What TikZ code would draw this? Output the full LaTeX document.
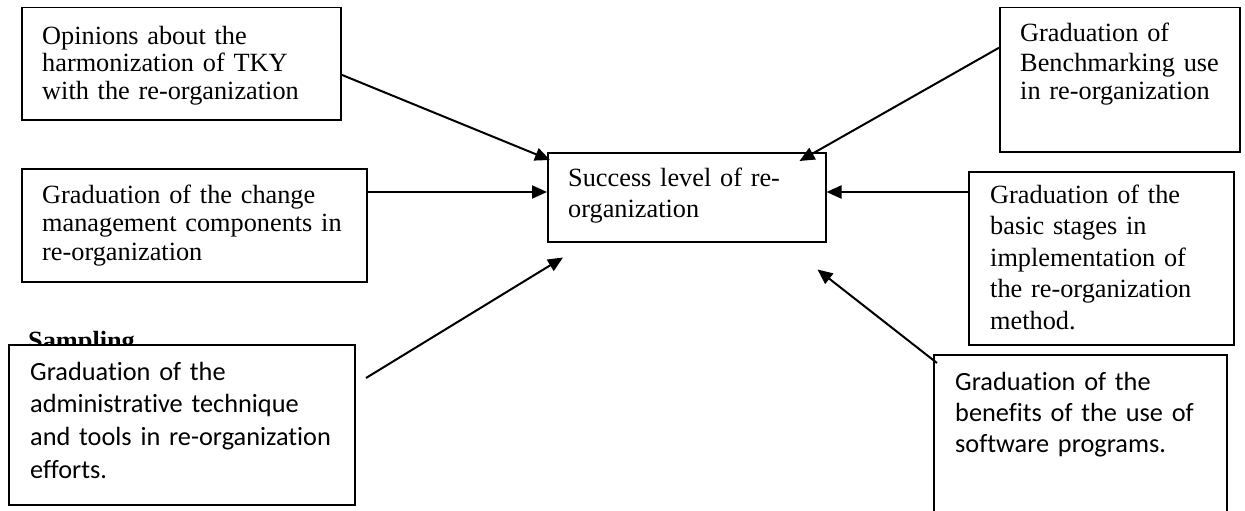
\documentclass[tikz,border=0pt]{standalone}
\usepackage{fontspec}
\setmainfont{Liberation Serif}
\newfontfamily\calib[Ligatures=NoCommon]{Carlito}
\usetikzlibrary{arrows.meta}
\tikzset{
  box/.style={draw, line width=1.5pt, anchor=north west, inner sep=0pt, fill=white},
  txt/.style={anchor=base west, inner sep=0pt, text width=330pt, align=left},
  arr/.style={line width=2pt, -{Triangle[length=15pt,width=13pt]}},
}
\newcommand{\tf}[1]{\fontsize{26.3}{#1}\selectfont}
\begin{document}
\begin{tikzpicture}[x=1pt,y=-1pt]
\clip (0,0) rectangle (1245,511);
\fill[white] (0,0) rectangle (1245,511);
% boxes
\node[box, minimum width=319pt, minimum height=112pt] (op) at (21,7) {};
\node[box, minimum width=240pt, minimum height=144pt] (bm) at (999,7) {};
\node[box, minimum width=278pt, minimum height=89pt] (sc) at (547,152) {};
\node[box, minimum width=345pt, minimum height=113pt] (cm) at (21,168) {};
\node[box, minimum width=265pt, minimum height=173pt] (bs) at (968,171) {};
\node[txt, font=\tf{30}\bfseries] (smp) at (28,349) {Sampling};
\node[box, minimum width=346pt, minimum height=160pt] (adm) at (8,344) {};
\node[box, minimum width=293pt, minimum height=175pt] (sw) at (933,354) {};
% texts
\node[txt, font=\tf{27.5}] (opt) at (42,44.5) {Opinions about the\\harmonization of TKY\\with the re-organization};
\node[txt, font=\tf{29}] (bmt) at (1020,42) {Graduation of\\Benchmarking use\\in re-organization};
\node[txt, font=\tf{31}] (sct) at (568,186) {Success level of re-\\organization};
\node[txt, font=\tf{28.5}] (cmt) at (42,203) {Graduation of the change\\management components in\\re-organization};
\node[txt, font=\tf{31.5}] (bst) at (990,203) {Graduation of the\\basic stages in\\implementation of\\the re-organization\\method.};
\node[txt, font=\calib\tf{32.7}] (admt) at (30,380) {Graduation of the\\administrative technique\\and tools in re-organization\\efforts.};
\node[txt, font=\calib\tf{31}] (swt) at (955,390) {Graduation of the\\benefits of the use of\\software programs.};
% arrows
\coordinate (a1) at (366,378);
\draw[arr] ([yshift=-11pt]op.east) -- ([xshift=3pt,yshift=-8pt]sc.north west);
\draw[arr] ([yshift=32pt]bm.west) -- ([xshift=-27pt,yshift=-9pt]sc.north east);
\draw[arr] (cm.east |- 0,192) -- (sc.west |- 0,192);
\draw[arr] (bs.west |- 0,192) -- (sc.east |- 0,192);
\draw[arr] (a1) -- ([xshift=16pt,yshift=-15pt]sc.south west);
\draw[arr] ([xshift=4pt,yshift=-9pt]sw.north west) -- ([xshift=-9pt,yshift=-27pt]sc.south east);
\end{tikzpicture}
\end{document}
